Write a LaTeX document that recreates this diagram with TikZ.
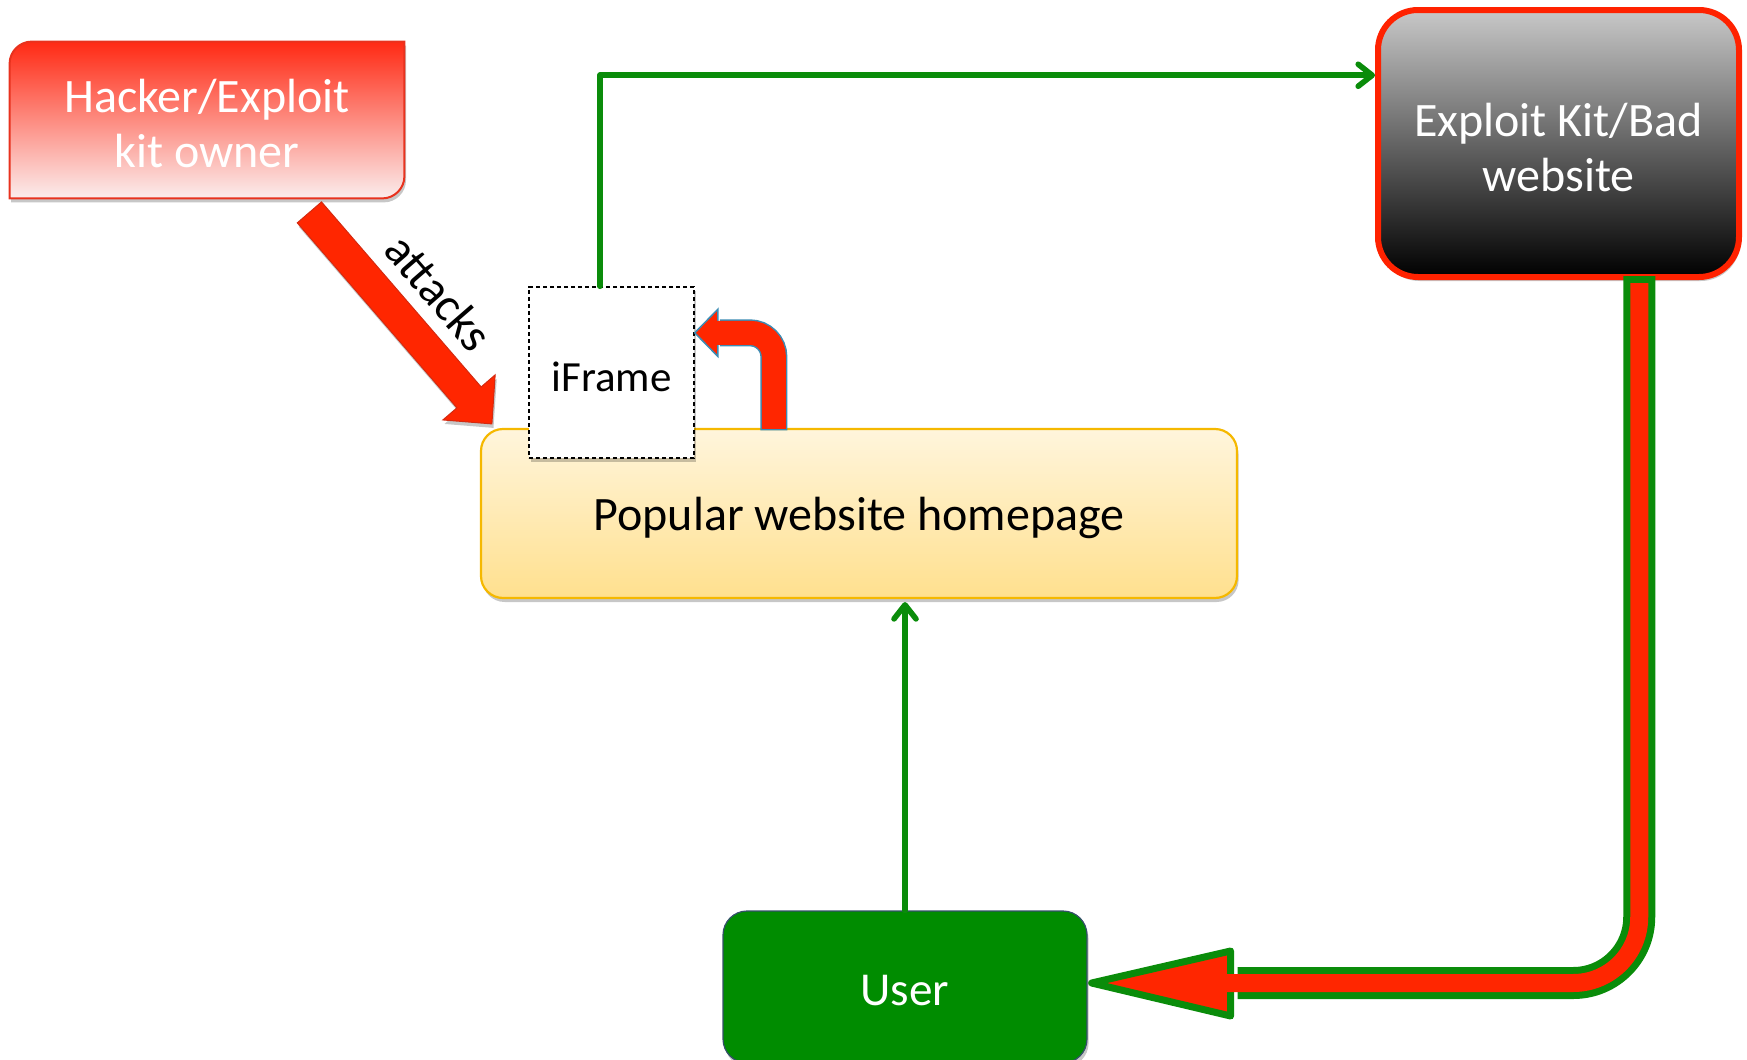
\documentclass[tikz,border=0pt]{standalone}
\usepackage{fontspec}
\setmainfont{Carlito}
\usetikzlibrary{calc,arrows.meta,shadows,backgrounds}
\definecolor{arrred}{HTML}{FF2600}
\definecolor{arredge}{HTML}{D42A10}
\definecolor{hacktop}{HTML}{FF2A14}
\definecolor{hackbot}{HTML}{FBEDED}
\definecolor{hackedge}{HTML}{E8321E}
\definecolor{exptop}{HTML}{C8C8C8}
\definecolor{expedge}{HTML}{FF2200}
\definecolor{poptop}{HTML}{FFF5DC}
\definecolor{popbot}{HTML}{FFE08E}
\definecolor{popedge}{HTML}{F5B800}
\definecolor{userfill}{HTML}{008C00}
\definecolor{useredge}{HTML}{34506A}
\definecolor{lgreen}{HTML}{0A8C0A}
\definecolor{bluish}{HTML}{3C8CB4}
\tikzset{
  softshadow/.style={drop shadow={shadow xshift=0.8pt,shadow yshift=-2pt,opacity=0.22,fill=black}},
  txt/.style={font=\fontsize{24}{27.3}\selectfont, align=center, inner sep=0pt},
  hackerbox/.style={minimum width=197pt, minimum height=78pt, inner sep=0pt},
  hackershape/.style={draw=hackedge, line width=1pt, top color=hacktop, bottom color=hackbot, softshadow},
  expbox/.style={draw=expedge, line width=3pt, rounded corners=20pt,
     top color=exptop, bottom color=black, minimum width=180.5pt, minimum height=133.5pt, softshadow},
  popbox/.style={draw=popedge, line width=1.1pt, rounded corners=11pt,
     top color=poptop, bottom color=popbot, minimum width=378pt, minimum height=84.5pt, softshadow},
  framebox/.style={draw=black, line width=0.75pt, dash pattern=on 2.2pt off 1.3pt,
     fill=white, minimum width=82.5pt, minimum height=85.5pt, softshadow},
  userbox/.style={draw=useredge, line width=0.6pt, rounded corners=12pt,
     fill=userfill, minimum width=182pt, minimum height=76pt, softshadow},
  greenarrow/.style={draw=lgreen, line width=2.8pt, line cap=round, line join=round,
     -{Straight Barb[length=7pt,width=11pt,line cap=round,line join=round]}},
  blockarrow/.style={fill=arrred, draw=arredge, line width=0.5pt, line join=miter},
}
\begin{document}
\begin{tikzpicture}[x=0.5pt,y=-0.5pt]
\useasboundingbox (0,0) rectangle (1747,1060);

% box shapes
\node[hackerbox] (hacker) at (207,120) {};
\node[popbox] (popular) at (859,513.5) {};
\node[framebox] (iframe) at (611.5,372.5) {};
\node[expbox] (exploit) at (1558.5,143.5) {};
\node[userbox] (user) at (905,987) {};

% hacker box shape (rounded top-left and bottom-right corners)
\begin{scope}[on background layer]
\path[hackershape] (hacker.south west) -- ($(hacker.north west)+(0,22)$)
  .. controls ($(hacker.north west)+(0,10)$) and ($(hacker.north west)+(10,0)$) .. ($(hacker.north west)+(22,0)$)
  -- (hacker.north east) -- ($(hacker.south east)+(0,-22)$)
  .. controls ($(hacker.south east)+(0,-10)$) and ($(hacker.south east)+(-10,0)$) .. ($(hacker.south east)+(-22,0)$)
  -- cycle;
\end{scope}

% texts
\node[txt, text=white] (hackertxt) at ($(hacker.center)+(0,3.5)$) {Hacker/Exploit\\kit owner};
\node[txt, text=black] (poptxt) at ($(popular.center)+(0,4)$) {Popular website homepage};
\node[txt, text=black, font=\fontsize{21.5}{25}\selectfont] (iframetxt) at ($(iframe.center)+(0,4)$) {iFrame};
\node[txt, text=white] (exptxt) at ($(exploit.center)+(0,4)$) {Exploit Kit/Bad\\website};
\node[txt, text=white, font=\fontsize{23.6}{27}\selectfont] (usertxt) at ($(user.center)+(0,3.5)$) {User};

% attacks block arrow
\coordinate (atail) at ($(hacker.south east)+(-95,14)$);
\coordinate (atip) at ($(popular.north west)+(12,-4)$);
\coordinate (abase) at ($(atip)!17.5pt!(atail)$);
\coordinate (acA) at ($(abase)!8pt!90:(atip)$);
\coordinate (acB) at ($(abase)!8pt!-90:(atip)$);
\coordinate (abA) at ($(abase)!17.25pt!90:(atip)$);
\coordinate (abB) at ($(abase)!17.25pt!-90:(atip)$);
\coordinate (atA) at ($(atail)!8pt!-90:(atip)$);
\coordinate (atB) at ($(atail)!8pt!90:(atip)$);
\path[blockarrow, softshadow] (atB) -- (acA) -- (abA) -- (atip) -- (abB) -- (acB) -- (atA) -- cycle;
\coordinate (amid) at ($(atail)!0.52!(atip)$);
\node[txt, rotate=-49] (attacks) at ($(amid)!23pt!90:(atip)$) {attacks};

% green connector iFrame -> Exploit kit
\coordinate (ifrtop) at ($(iframe.north west)!0.43!(iframe.north east)$);
\coordinate (expin) at ($(exploit.north west)!0.25!(exploit.south west)$);
\draw[greenarrow] (ifrtop) |- (expin);

% green connector User -> Popular
\draw[greenarrow, shorten >=1.5pt] (user.north) -- (user.north |- popular.south);

% curved red arrow Popular -> iFrame
\coordinate (cstart) at ($(popular.north west)+(294,1)$);
\coordinate (ctip) at ($(iframe.north east)!0.27!(iframe.south east)$);
\draw[bluish, line width=13.5pt, rounded corners=12pt] ($(cstart)+(0,1.5)$) -- (cstart |- ctip) -- ($(ctip)+(25,0)$);
\draw[fill=arrred, draw=bluish, line width=0.75pt, line join=miter] (ctip) -- ($(ctip)+(23,-23.5)$) -- ($(ctip)+(23,23.5)$) -- cycle;
\draw[arrred, line width=12pt, rounded corners=12pt] (cstart) -- (cstart |- ctip) -- ($(ctip)+(21,0)$);

% big return arrow Exploit -> User
\coordinate (bs0) at ($(exploit.south west)!0.72!(exploit.south east)$);
\coordinate (bstart) at ($(bs0)+(0,-4)$);
\coordinate (btip) at ($(user.east)+(0,-4)$);
\draw[lgreen, line width=16pt, rounded corners=33pt] (bstart) -- (bstart |- btip) -- ($(btip)+(150,0)$);
\draw[fill=arrred, draw=lgreen, line width=3.5pt, line join=round] ($(btip)+(4,0)$) -- ($(btip)+(143,-32)$) -- ($(btip)+(143,33)$) -- cycle;
\draw[arrred, line width=9pt, rounded corners=33pt] ($(bstart)+(0,7)$) -- (bstart |- btip) -- ($(btip)+(139,0)$);
\end{tikzpicture}
\end{document}
